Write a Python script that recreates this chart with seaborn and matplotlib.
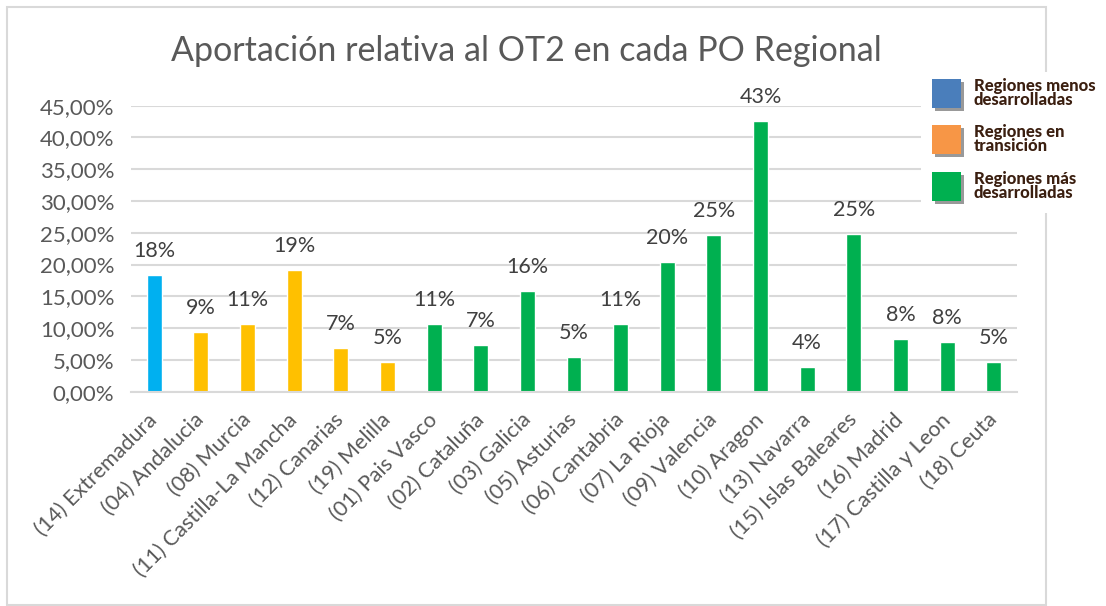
import matplotlib
matplotlib.use("Agg")
import matplotlib.pyplot as plt
from matplotlib.patches import Rectangle
import seaborn as sns
import pandas as pd

regions = ["(14) Extremadura", "(04) Andalucia", "(08) Murcia", "(11) Castilla-La Mancha",
           "(12) Canarias", "(19) Melilla", "(01) Pais Vasco", "(02) Cataluña", "(03) Galicia",
           "(05) Asturias", "(06) Cantabria", "(07) La Rioja", "(09) Valencia", "(10) Aragon",
           "(13) Navarra", "(15) Islas Baleares", "(16) Madrid", "(17) Castilla y Leon", "(18) Ceuta"]
values = [0.184, 0.094, 0.107, 0.192, 0.068, 0.047, 0.106, 0.074, 0.159, 0.054,
          0.107, 0.204, 0.246, 0.426, 0.039, 0.248, 0.083, 0.078, 0.046]
groups = ["menos"] + ["transicion"] * 5 + ["mas"] * 13
bar_palette = {"menos": "#00b0f0", "transicion": "#ffc000", "mas": "#00b050"}
legend_labels = ["Regiones menos\ndesarrolladas", "Regiones en\ntransición", "Regiones más\ndesarrolladas"]
legend_colors = ["#4a7ebb", "#f79646", "#00b050"]
yticks = [0.0, 0.05, 0.10, 0.15, 0.20, 0.25, 0.30, 0.35, 0.40, 0.45]
title = "Aportación relativa al OT2 en cada PO Regional"

df = pd.DataFrame({"region": regions, "value": values, "group": groups})

sns.set_theme(style="white")
plt.rcParams["font.family"] = ["Lato", "DejaVu Sans"]

W, H = 1106, 606
fig = plt.figure(figsize=(W / 100, H / 100), dpi=100)
ax = fig.add_axes([131 / W, 1 - 391.7 / H, (1017 - 131) / W, (391.7 - 105.7) / H])

sns.barplot(data=df, x="region", y="value", hue="group", palette=bar_palette,
            dodge=False, width=0.32, legend=False, ax=ax, saturation=1)

ax.set_ylim(0, 0.45)
ax.set_xlim(-0.5, len(regions) - 0.5)
ax.set_yticks(yticks)
ax.set_yticklabels([f"{t*100:.2f}%".replace(".", ",") for t in yticks])
ax.yaxis.grid(True, color="#d9d9d9", linewidth=1.5)
ax.set_axisbelow(True)
for s in ["top", "right", "left"]:
    ax.spines[s].set_visible(False)
ax.spines["bottom"].set_color("#d9d9d9")
ax.spines["bottom"].set_linewidth(1.5)
ax.set_xlabel("")
ax.set_ylabel("")
ax.tick_params(axis="y", length=0, pad=12, labelsize=16, labelcolor="#595959")
ax.tick_params(axis="x", length=0, pad=18, labelsize=15.5, labelcolor="#595959")
for lab in ax.get_xticklabels():
    lab.set_rotation(45)
    lab.set_ha("right")
    lab.set_rotation_mode("anchor")
    lab.set_va("center")

for i, v in enumerate(values):
    ax.annotate(f"{round(v*100):d}%", (i, v), xytext=(0, 13), textcoords="offset points",
                ha="center", va="baseline", fontsize=15.5, color="#404040", annotation_clip=False)

fig.text(526 / W, 1 - 51 / H, title, ha="center", va="center", fontsize=24.5,
         color="#595959", fontweight="normal")

# chart border
fig.patches.append(Rectangle((7 / W, 1 - 605 / H), (1046 - 7) / W, (605 - 7) / H,
                             transform=fig.transFigure, fill=False, edgecolor="#d9d9d9",
                             linewidth=1.5, zorder=1))
# legend panel
fig.patches.append(Rectangle((921 / W, 1 - 213 / H), (W - 921) / W, (213 - 72) / H,
                             transform=fig.transFigure, facecolor="white", edgecolor="none",
                             zorder=5))
ys = [79, 125, 172]
for y0, lab, col in zip(ys, legend_labels, legend_colors):
    fig.patches.append(Rectangle((935 / W, 1 - (y0 + 32) / H), 29 / W, 29 / H,
                                 transform=fig.transFigure, facecolor="#555555",
                                 edgecolor="none", alpha=0.6, zorder=6))
    fig.patches.append(Rectangle((932 / W, 1 - (y0 + 29) / H), 29 / W, 29 / H,
                                 transform=fig.transFigure, facecolor=col,
                                 edgecolor="none", zorder=7))
    fig.text(974 / W, 1 - (y0 + 14) / H, lab, ha="left", va="center", fontsize=12,
             fontweight="black", color="#3b1f10", linespacing=0.8, zorder=8)

fig.savefig("out.png", dpi=100, facecolor="white")
